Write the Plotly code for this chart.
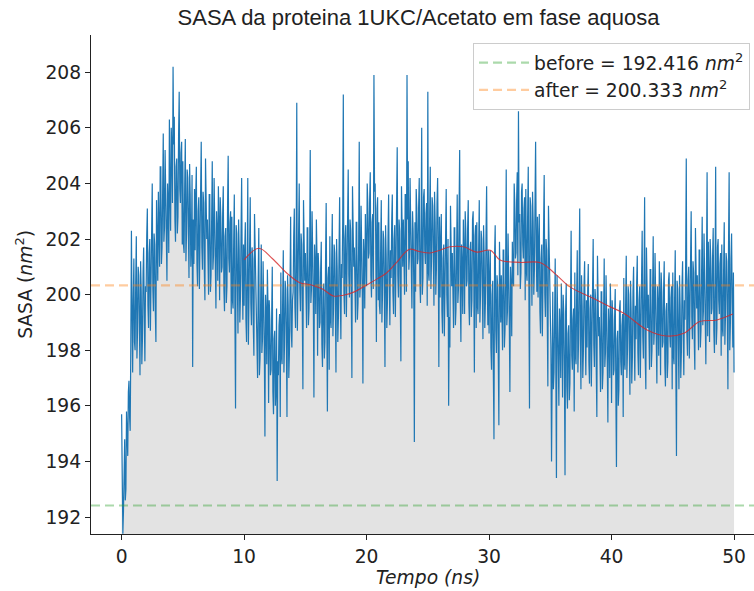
import plotly.graph_objects as go

# ---------------- data ----------------
# SASA samples: one list on the 0.1 ns grid,
# one list halfway between (t = 0.05 + 0.1*i)
t_step = 0.1
sasa = [
    195.7, 191.4, 193.9, 192.6, 195.8, 194.2, 196.9, 195.1, 202.3, 197.2,
    201.3, 198.0, 202.1, 198.7, 200.7, 197.1, 200.1, 198.4, 201.7, 197.6,
    200.1, 203.1, 198.8, 202.0, 200.6, 204.0, 199.4, 201.8, 198.3, 202.4,
    203.7, 201.0, 204.6, 201.7, 205.8, 202.4, 204.1, 200.5, 203.3, 206.3,
    202.3, 205.3, 208.2, 206.4, 201.9, 204.9, 202.8, 207.3, 203.3, 205.5,
    204.8, 201.5, 205.6, 202.2, 204.2, 200.6, 203.6, 201.9, 197.4, 201.1,
    201.6, 204.6, 200.3, 203.5, 202.1, 205.5, 200.9, 203.3, 199.8, 203.9,
    202.7, 200.0, 203.6, 200.7, 204.8, 201.4, 203.1, 199.5, 202.3, 203.9,
    199.8, 202.8, 201.0, 203.9, 199.4, 202.4, 200.3, 205.0, 200.8, 203.0,
    202.8, 199.5, 203.6, 195.9, 202.2, 198.6, 201.6, 199.9, 204.2, 199.1,
    199.6, 202.6, 198.3, 204.2, 200.1, 203.5, 198.9, 201.3, 197.8, 201.9,
    199.7, 197.0, 202.4, 197.7, 201.8, 198.4, 200.1, 194.9, 199.3, 200.9,
    196.1, 199.1, 197.3, 201.0, 195.7, 198.7, 196.6, 193.3, 197.1, 199.3,
    200.8, 197.5, 201.6, 198.2, 200.2, 195.6, 199.6, 197.9, 202.8, 198.1,
    200.1, 203.1, 198.8, 206.9, 200.6, 204.0, 199.4, 201.8, 196.6, 202.4,
    201.5, 198.8, 202.4, 199.5, 205.2, 200.2, 201.9, 196.3, 201.1, 202.7,
    197.8, 200.8, 199.0, 201.9, 197.4, 200.4, 198.3, 203.3, 195.8, 201.0,
    202.1, 198.8, 202.9, 199.5, 201.5, 197.2, 200.9, 199.2, 203.5, 198.4,
    200.6, 207.2, 199.3, 202.5, 201.1, 204.5, 199.9, 202.3, 197.0, 202.9,
    201.7, 199.0, 202.6, 199.7, 205.5, 200.4, 202.1, 196.8, 201.3, 202.9,
    200.3, 203.3, 201.5, 204.4, 199.9, 202.9, 207.9, 204.0, 198.3, 203.5,
    202.6, 199.3, 203.4, 200.0, 202.0, 197.4, 201.4, 199.7, 203.6, 198.9,
    200.6, 203.6, 199.3, 202.5, 201.1, 205.3, 199.9, 202.3, 197.6, 202.9,
    202.7, 200.0, 203.6, 207.9, 204.8, 201.4, 203.1, 199.5, 202.3, 194.7,
    200.1, 203.1, 201.3, 204.2, 199.7, 206.0, 200.6, 203.8, 201.1, 203.3,
    207.3, 200.5, 204.6, 201.2, 203.2, 199.6, 202.6, 200.9, 204.2, 197.4,
    199.9, 202.9, 198.6, 201.8, 200.4, 203.8, 199.2, 196.0, 198.1, 202.2,
    201.5, 198.8, 202.4, 199.5, 203.6, 200.2, 205.2, 198.3, 201.1, 202.7,
    199.3, 202.3, 200.5, 203.4, 198.9, 201.9, 199.8, 203.0, 197.2, 202.5,
    202.6, 199.3, 203.4, 200.0, 202.0, 198.4, 201.4, 199.7, 203.9, 198.9,
    198.6, 201.6, 197.3, 200.5, 194.8, 202.5, 197.9, 200.3, 195.3, 200.9,
    200.7, 198.0, 201.6, 198.7, 204.5, 199.4, 201.1, 196.5, 200.3, 201.9,
    200.3, 203.3, 201.5, 204.4, 206.6, 202.9, 200.8, 204.0, 201.3, 203.5,
    203.8, 200.5, 204.6, 195.9, 203.2, 199.6, 202.6, 200.9, 205.5, 200.1,
    199.9, 202.9, 198.6, 201.8, 200.4, 204.3, 199.2, 201.6, 196.7, 202.2,
    199.2, 194.0, 200.1, 197.2, 201.3, 193.4, 199.6, 196.0, 198.8, 200.4,
    196.3, 199.3, 193.5, 200.4, 195.9, 198.9, 196.8, 202.3, 197.3, 199.5,
    200.8, 197.5, 201.6, 198.2, 203.1, 196.6, 199.6, 197.9, 201.2, 197.1,
    198.1, 201.1, 196.8, 200.0, 198.6, 202.0, 197.4, 199.8, 195.6, 200.4,
    199.2, 196.5, 200.1, 197.2, 201.3, 197.9, 199.6, 195.4, 198.8, 200.4,
    196.1, 199.1, 197.3, 200.2, 193.8, 198.7, 196.6, 199.8, 197.1, 199.3,
    200.6, 197.3, 201.4, 198.0, 200.0, 196.4, 199.4, 197.7, 201.0, 196.9,
    198.4, 201.4, 197.1, 200.3, 198.9, 202.3, 197.7, 203.5, 196.6, 200.7,
    200.0, 197.3, 200.9, 198.0, 202.1, 198.7, 200.4, 196.8, 199.6, 201.2,
    197.1, 200.1, 198.3, 201.2, 196.7, 199.7, 197.6, 200.8, 198.1, 200.3,
    200.8, 197.5, 201.6, 194.2, 200.2, 196.6, 199.6, 197.9, 201.2, 197.1,
    199.1, 204.9, 197.8, 201.0, 199.6, 203.0, 198.4, 200.8, 197.3, 201.4,
    200.7, 198.0, 201.6, 198.7, 202.8, 199.4, 201.1, 197.5, 204.4, 201.9,
    198.3, 201.3, 199.5, 202.4, 197.9, 204.6, 198.8, 202.0, 199.3, 201.5,
    201.8, 198.5, 202.6, 199.2, 201.2, 196.6, 204.4, 198.9, 202.2, 198.1,
    197.2,
]
sasa_mid = [
    193.5, 192.2, 194.8, 193.0, 195.0, 196.5, 195.6, 198.2, 199.5, 199.8,
    198.3, 200.4, 197.7, 201.0, 198.9, 201.2, 197.5, 200.8, 199.2, 200.3,
    202.1, 199.6, 201.5, 198.7, 202.9, 200.2, 202.2, 199.4, 203.4, 200.5,
    202.6, 204.6, 201.1, 203.7, 201.9, 205.2, 202.1, 204.0, 201.5, 203.6,
    206.0, 203.3, 205.4, 202.7, 204.6, 202.2, 205.7, 203.8, 205.1, 201.8,
    201.8, 203.9, 201.2, 204.5, 202.4, 204.7, 201.0, 204.3, 202.7, 203.8,
    203.6, 201.1, 203.0, 200.2, 204.4, 201.7, 203.7, 200.9, 204.9, 202.0,
    201.6, 203.6, 200.1, 202.7, 200.9, 204.2, 201.1, 203.0, 200.5, 202.6,
    203.5, 200.8, 202.9, 200.2, 202.1, 199.7, 203.2, 201.3, 202.6, 199.3,
    199.8, 201.9, 199.2, 202.5, 200.4, 202.7, 199.0, 202.3, 200.7, 201.8,
    201.6, 199.1, 201.0, 198.2, 202.4, 199.7, 201.7, 198.9, 202.9, 200.0,
    198.6, 200.6, 197.1, 199.7, 197.9, 201.2, 198.1, 200.0, 197.5, 199.6,
    199.8, 197.1, 199.2, 196.5, 198.4, 196.0, 199.5, 197.6, 198.9, 195.6,
    197.8, 199.9, 197.2, 200.5, 198.4, 200.7, 197.0, 200.3, 198.7, 199.8,
    202.1, 199.6, 201.5, 198.7, 202.9, 200.2, 202.2, 199.4, 203.4, 200.5,
    200.4, 202.4, 198.9, 201.5, 199.7, 203.0, 199.9, 201.8, 199.3, 201.4,
    201.5, 198.8, 200.9, 198.2, 200.1, 197.7, 201.2, 199.3, 200.6, 197.3,
    199.1, 201.2, 198.5, 201.8, 199.7, 202.0, 198.3, 201.6, 200.0, 201.1,
    202.6, 200.1, 202.0, 199.2, 203.4, 200.7, 202.7, 199.9, 203.9, 201.0,
    200.6, 202.6, 199.1, 201.7, 199.9, 203.2, 200.1, 202.0, 199.5, 201.6,
    204.0, 201.3, 203.4, 200.7, 202.6, 200.2, 203.7, 201.8, 203.1, 199.8,
    199.6, 201.7, 199.0, 202.3, 200.2, 202.5, 198.8, 202.1, 200.5, 201.6,
    202.6, 200.1, 202.0, 199.2, 203.4, 200.7, 202.7, 199.9, 203.9, 201.0,
    201.6, 203.6, 200.1, 202.7, 200.9, 204.2, 201.1, 203.0, 200.5, 202.6,
    203.8, 201.1, 203.2, 200.5, 202.4, 200.0, 203.5, 201.6, 202.9, 199.6,
    200.8, 202.9, 200.2, 203.5, 201.4, 203.7, 200.0, 203.3, 201.7, 202.8,
    201.9, 199.4, 201.3, 198.5, 202.7, 200.0, 202.0, 199.2, 203.2, 200.3,
    200.4, 202.4, 198.9, 201.5, 199.7, 203.0, 199.9, 201.8, 199.3, 201.4,
    203.0, 200.3, 202.4, 199.7, 201.6, 199.2, 202.7, 200.8, 202.1, 198.8,
    199.6, 201.7, 199.0, 202.3, 200.2, 202.5, 198.8, 202.1, 200.5, 201.6,
    200.6, 198.1, 200.0, 197.2, 201.4, 198.7, 200.7, 197.9, 201.9, 199.0,
    199.6, 201.6, 198.1, 200.7, 198.9, 202.2, 199.1, 201.0, 198.5, 200.6,
    204.0, 201.3, 203.4, 200.7, 202.6, 200.2, 203.7, 201.8, 203.1, 199.8,
    200.8, 202.9, 200.2, 203.5, 201.4, 203.7, 200.0, 203.3, 201.7, 202.8,
    201.9, 199.4, 201.3, 198.5, 202.7, 200.0, 202.0, 199.2, 203.2, 200.3,
    198.1, 200.1, 196.6, 199.2, 197.4, 200.7, 197.6, 199.5, 197.0, 199.1,
    200.0, 197.3, 199.4, 196.7, 198.6, 196.2, 199.7, 197.8, 199.1, 195.8,
    197.8, 199.9, 197.2, 200.5, 198.4, 200.7, 197.0, 200.3, 198.7, 199.8,
    200.1, 197.6, 199.5, 196.7, 200.9, 198.2, 200.2, 197.4, 201.4, 198.5,
    198.1, 200.1, 196.6, 199.2, 197.4, 200.7, 197.6, 199.5, 197.0, 199.1,
    199.8, 197.1, 199.2, 196.5, 198.4, 196.0, 199.5, 197.6, 198.9, 195.6,
    197.6, 199.7, 197.0, 200.3, 198.2, 200.5, 196.8, 200.1, 198.5, 199.6,
    200.4, 197.9, 199.8, 197.0, 201.2, 198.5, 200.5, 197.7, 201.7, 198.8,
    198.9, 200.9, 197.4, 200.0, 198.2, 201.5, 198.4, 200.3, 197.8, 199.9,
    200.8, 198.1, 200.2, 197.5, 199.4, 197.0, 200.5, 198.6, 199.9, 196.6,
    197.8, 199.9, 197.2, 200.5, 198.4, 200.7, 197.0, 200.3, 198.7, 199.8,
    201.1, 198.6, 200.5, 197.7, 201.9, 199.2, 201.2, 198.4, 202.4, 199.5,
    199.6, 201.6, 198.1, 200.7, 198.9, 202.2, 199.1, 201.0, 198.5, 200.6,
    202.0, 199.3, 201.4, 198.7, 200.6, 198.2, 201.7, 199.8, 201.1, 197.8,
    198.8, 200.9, 198.2, 201.5, 199.4, 201.7, 198.0, 201.3, 199.7, 200.8,
]

# merge the two sample lists in time order
tempo, sasa_all = [], []
for i, v in enumerate(sasa):
    tempo.append(round(i * t_step, 2))
    sasa_all.append(v)
    if i < len(sasa_mid):
        tempo.append(round(i * t_step + t_step / 2, 2))
        sasa_all.append(sasa_mid[i])

media_x = [10.0, 11.2, 12.3, 13.5, 14.5, 15.5, 16.4, 17.3, 18.1, 19.0, 20.0,
           20.8, 21.6, 22.4, 23.5, 24.3, 25.2, 26.0, 26.8, 27.9, 29.0, 30.1,
           30.9, 32.5, 34.2, 35.4, 36.6, 38.5, 39.7, 41.0, 42.9, 44.5, 45.9,
           47.2, 48.6, 49.9]
media_y = [201.25, 201.67, 201.3, 200.77, 200.44, 200.35, 200.2, 199.95,
           199.98, 200.1, 200.35, 200.55, 200.77, 201.13, 201.63, 201.55,
           201.5, 201.6, 201.72, 201.72, 201.53, 201.6, 201.25, 201.16,
           201.15, 200.75, 200.28, 199.87, 199.6, 199.33, 198.73, 198.51,
           198.61, 199.03, 199.09, 199.30]

before_val = 192.416
after_val = 200.333
ref_labels = ["before = 192.416 <i>nm</i><sup>2</sup>",
              "after = 200.333 <i>nm</i><sup>2</sup>"]

y_ticks = [192, 194, 196, 198, 200, 202, 204, 206, 208]
x_ticks = [0, 10, 20, 30, 40, 50]

X_RANGE = [-2.5, 51.63]
Y_RANGE = [191.39, 209.34]

# ---------------- figure ----------------
fig = go.Figure()

fig.add_trace(go.Scatter(
    x=tempo, y=sasa_all, mode="lines",
    line=dict(color="#1f77b4", width=1.2),
    fill="tozeroy", fillcolor="rgba(128,128,128,0.22)",
    showlegend=False, hoverinfo="skip"))

fig.add_trace(go.Scatter(
    x=media_x, y=media_y, mode="lines",
    line=dict(color="rgba(214,39,40,0.8)", width=1.1, shape="spline"),
    showlegend=False, hoverinfo="skip"))

fig.add_trace(go.Scatter(
    x=X_RANGE, y=[before_val, before_val], mode="lines",
    line=dict(color="rgba(44,160,44,0.4)", width=2.2, dash="9px,5px"),
    name=ref_labels[0]))

fig.add_trace(go.Scatter(
    x=X_RANGE, y=[after_val, after_val], mode="lines",
    line=dict(color="rgba(255,127,14,0.4)", width=2.2, dash="9px,5px"),
    name=ref_labels[1]))

FS = 18.7
axis_font = dict(family="DejaVu Sans", size=FS, color="#222")

fig.update_layout(
    width=754, height=591,
    margin=dict(l=91, r=0, t=35, b=57),
    paper_bgcolor="white", plot_bgcolor="white",
    font=dict(family="DejaVu Sans", size=FS, color="#222"),
    title=dict(text="SASA da proteina 1UKC/Acetato em fase aquosa",
               x=0.555, xanchor="center", y=0.971, yanchor="middle",
               font=dict(family="Liberation Sans", size=22, color="#222")),
    xaxis=dict(range=X_RANGE, tickvals=x_ticks, showgrid=False, zeroline=False,
               showline=True, linecolor="#222", linewidth=1.3,
               ticks="outside", ticklen=5, tickcolor="#222", tickwidth=1.3,
               tickfont=axis_font),
    yaxis=dict(range=Y_RANGE, tickvals=y_ticks, showgrid=False, zeroline=False,
               showline=True, linecolor="#222", linewidth=1.3,
               ticks="outside", ticklen=5, tickcolor="#222", tickwidth=1.3,
               tickfont=axis_font),
    legend=dict(x=0.994, y=0.984, xanchor="right", yanchor="top",
                bgcolor="rgba(255,255,255,0.9)", bordercolor="#cccccc",
                borderwidth=1, font=dict(family="DejaVu Sans", size=FS, color="#222"),
                itemwidth=50, tracegroupgap=0),
    annotations=[
        dict(text="<i>Tempo (ns)</i>", xref="paper", yref="paper",
             x=0.508, y=-0.088, xanchor="center", yanchor="middle",
             showarrow=False, font=dict(family="DejaVu Sans", size=FS, color="#222")),
        dict(text="SASA (<i>nm</i><sup>2</sup>)", xref="paper", yref="paper",
             x=-0.102, y=0.5, xanchor="center", yanchor="middle", textangle=-90,
             showarrow=False, font=dict(family="DejaVu Sans", size=FS, color="#222")),
    ],
)

fig.write_html("out.html")
